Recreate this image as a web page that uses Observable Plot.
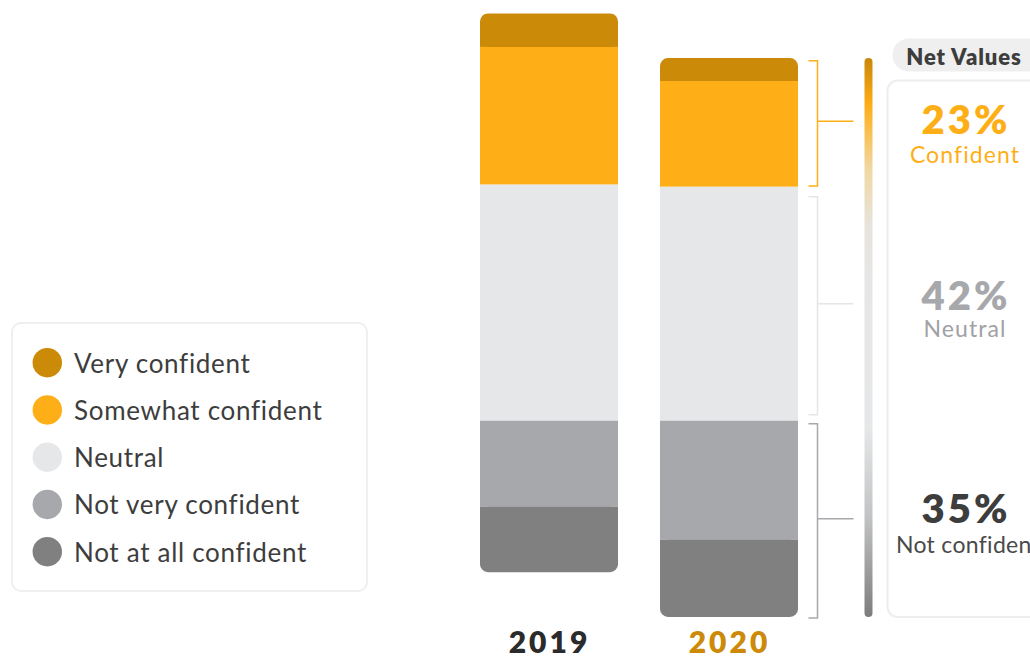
<!DOCTYPE html>
<html><head><meta charset="utf-8">
<script src="https://cdn.jsdelivr.net/npm/d3@7"></script>
<script src="https://cdn.jsdelivr.net/npm/@observablehq/plot@0.6"></script>
<style>
html,body{margin:0;padding:0;background:#fff;}
#chart{position:relative;width:1030px;height:656px;overflow:hidden;font-family:Lato,sans-serif;}
#chart svg{position:absolute;left:0;top:0;overflow:hidden;}
</style></head><body><div id="chart"></div>
<script>
// ---- data ----
const years = ["2019", "2020"];
const categories = ["Very confident", "Somewhat confident", "Neutral", "Not very confident", "Not at all confident"];
const categoryColors = ["#cb8a07", "#feaf17", "#e6e7e9", "#a7a8ab", "#808080"];
const values2019 = [6.0, 24.6, 42.3, 15.4, 11.7];
const values2020 = [4.1, 18.9, 41.9, 21.3, 13.8];
const yearLabelColors = ["#2b2b2b", "#cc8a08"];
const netLabels = ["Confident", "Neutral", "Not confident"];
const netValues = [23, 42, 35];
const netNumberColors = ["#feaf17", "#a7a8ab", "#3d3d3d"];
const netLabelColors = ["#feaf17", "#a0a1a4", "#4a4a4a"];
const bracketColors = ["#feaf17", "#e4e5e7", "#a7a8ab"];
const netTitle = "Net Values";

// ---- build stacked rows (neutral sits above zero, negatives below) ----
const valuesByYear = {"2019": values2019, "2020": values2020};
const rows = [];
for (const yr of years) {
  const v = valuesByYear[yr];
  let acc = 0;
  for (const i of [2, 1, 0]) {
    rows.push({year: yr, cat: categories[i], color: categoryColors[i], y1: acc, y2: acc + v[i], end: i === 0});
    acc += v[i];
  }
  acc = 0;
  for (const i of [3, 4]) {
    rows.push({year: yr, cat: categories[i], color: categoryColors[i], y1: acc, y2: acc - v[i], end: i === 4});
    acc -= v[i];
  }
}
const inner = rows.filter(d => !d.end);
const ends = rows.filter(d => d.end);
const endCovers = ends.map(d => ({...d, y2: (d.y1 + d.y2) / 2}));

const plot = Plot.plot({
  width: 1030, height: 656,
  marginTop: 0, marginBottom: 0, marginLeft: 0, marginRight: 0,
  x: {domain: years, range: [479.3, 798.7], paddingInner: 0.234, paddingOuter: 0, axis: null},
  y: {domain: [-42.1, 75.3], range: [656, 0], axis: null},
  color: {type: "identity"},
  style: {background: "transparent", fontFamily: "Lato, sans-serif", overflow: "hidden"},
  marks: [
    Plot.barY(inner, {x: "year", y1: "y1", y2: "y2", fill: "color"}),
    Plot.barY(ends, {x: "year", y1: "y1", y2: "y2", fill: "color", rx: 8, ry: 8}),
    Plot.barY(endCovers, {x: "year", y1: "y1", y2: "y2", fill: "color"}),
    Plot.text(years, {x: d => d, frameAnchor: "bottom", lineAnchor: "bottom", dy: -4, text: d => d,
      fill: (d, i) => yearLabelColors[i], fontSize: 30, fontWeight: 800, className: "yearlab"})
  ]
});
document.getElementById("chart").appendChild(plot);

const svg = d3.select(plot);
svg.selectAll("g.yearlab text, .yearlab text").attr("letter-spacing", 3).style("letter-spacing", "3px");

// ---- annotations using the plot's own scales ----
const ys = plot.scale("y");
const xs = plot.scale("x");
const Y = v => ys.apply(v);
const x2020 = xs.apply("2020") + xs.bandwidth;
const bx = x2020 + 19.5;

const v = values2020;
const groups = [
  {top: v[2] + v[1] + v[0], bottom: v[2], inset: [2.6, -0.7]},
  {top: v[2], bottom: 0, inset: [10, -6]},
  {top: 0, bottom: -(v[3] + v[4]), inset: [3, 1]}
];
const ann = svg.append("g");
groups.forEach((g, i) => {
  const t = Y(g.top) + g.inset[0], b = Y(g.bottom) + g.inset[1];
  g.mid = (t + b) / 2;
  ann.append("path")
    .attr("d", `M${bx - 9},${t}H${bx}V${b}H${bx - 9}M${bx},${g.mid - 2}H${bx + 36}`)
    .attr("fill", "none").attr("stroke", bracketColors[i]).attr("stroke-width", 1.5);
});

// gradient bar
const defs = svg.append("defs");
const grad = defs.append("linearGradient").attr("id", "netgrad").attr("x1", 0).attr("x2", 0).attr("y1", 0).attr("y2", 1);
[[0, "#c88608"], [0.08, "#fdab15"], [0.13, "#f9bf4f"], [0.2, "#f0d8a4"], [0.3, "#e7e3dc"], [0.4, "#e6e6e7"], [0.66, "#e6e7e9"], [0.82, "#c2c3c5"], [1, "#7c7c7c"]]
  .forEach(([o, c]) => grad.append("stop").attr("offset", o).attr("stop-color", c));
const gTop = Y(groups[0].top), gBot = Y(groups[2].bottom);
ann.append("rect").attr("x", bx + 47).attr("y", gTop).attr("width", 8).attr("height", gBot - gTop)
  .attr("rx", 4).attr("fill", "url(#netgrad)");

// net values panel
const px = bx + 70, cx = 965;
ann.append("rect").attr("x", px + 5).attr("y", 38.5).attr("width", 180).attr("height", 33).attr("rx", 16.5).attr("fill", "#efefef");
ann.append("text").attr("x", cx - 1).attr("y", 64.5).attr("text-anchor", "middle")
  .attr("font-size", 22).attr("font-weight", 800).attr("letter-spacing", 0.9).attr("fill", "#3d3d3d").text(netTitle);
ann.append("rect").attr("x", px).attr("y", 80.5).attr("width", 200).attr("height", gBot - 80.5).attr("rx", 10)
  .attr("fill", "none").attr("stroke", "#eeeeee").attr("stroke-width", 2);
const numOffsets = [10.6, 4.1, 1.7];
const labOffsets = [39.3, 31, 31.7];
const labSpacing = [1.1, 1.1, 0.3];
groups.forEach((g, i) => {
  ann.append("text").attr("x", cx + 1).attr("y", g.mid + numOffsets[i]).attr("text-anchor", "middle")
    .attr("font-size", 40).attr("font-weight", 800).attr("letter-spacing", 3).attr("fill", netNumberColors[i]).text(netValues[i] + "%");
  ann.append("text").attr("x", cx + (i === 2 ? 3 : 0)).attr("y", g.mid + labOffsets[i]).attr("text-anchor", "middle")
    .attr("font-size", 23).attr("letter-spacing", labSpacing[i]).attr("fill", netLabelColors[i]).text(netLabels[i]);
});

// legend
const lg = svg.append("g").attr("text-anchor", "start");
lg.append("rect").attr("x", 12).attr("y", 323).attr("width", 355).attr("height", 268).attr("rx", 9)
  .attr("fill", "#fff").attr("stroke", "#efefef").attr("stroke-width", 2);
categories.forEach((c, i) => {
  const cy = 362.7 + i * 47.25;
  lg.append("circle").attr("cx", 47.3).attr("cy", cy).attr("r", 14.7).attr("fill", categoryColors[i]);
  lg.append("text").attr("x", 74).attr("y", cy + 10).attr("text-anchor", "start")
    .attr("font-size", 26).attr("letter-spacing", 0.7).attr("fill", "#3d3d3d").text(c);
});
</script>
</body></html>
